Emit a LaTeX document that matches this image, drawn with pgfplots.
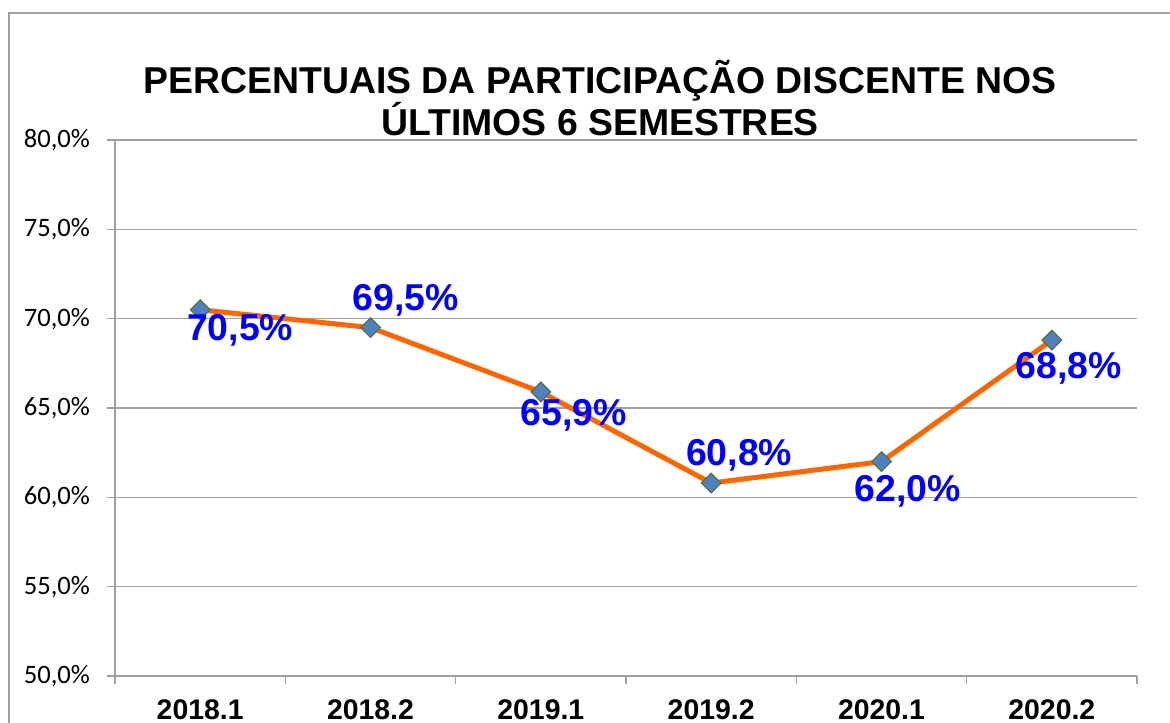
\documentclass[border=0pt]{standalone}
\usepackage{pgfplots}
\pgfplotsset{compat=1.18}
\usepackage{pgfplotstable}
\usepackage{fontspec}
\setmainfont{Liberation Sans}
\newfontfamily\calibri{Carlito}
\definecolor{lineor}{RGB}{255,102,0}
\definecolor{markblue}{RGB}{79,129,189}
\definecolor{markgreen}{RGB}{80,110,40}
\definecolor{labelblue}{RGB}{0,0,255}
\definecolor{gridgray}{RGB}{160,160,160}
\pgfplotstableread{
x y dx dy
0 70.5 20 -10.5
1 69.5 17.5 13.5
2 65.9 16.5 -11.5
3 60.8 14 14
4 62.0 13 -15
5 68.8 8.5 -14
}\datatable
\begin{document}
\begin{tikzpicture}
\useasboundingbox (0,0) rectangle (585pt,-361pt);
\draw[gridgray, line width=0.75pt] (4.5pt,-6.5pt) rectangle (700pt,-500pt);
\node[font=\bfseries\fontsize{18.7}{21}\selectfont, anchor=base] at (300pt,-46.5pt) {PERCENTUAIS DA PARTICIPAÇÃO DISCENTE NOS};
\node[font=\bfseries\fontsize{18.7}{21}\selectfont, anchor=base] at (300pt,-67.5pt) {ÚLTIMOS 6 SEMESTRES};
\begin{axis}[
  at={(57.5pt,-338pt)}, anchor=south west,
  scale only axis, width=511pt, height=268pt,
  xmin=-0.5, xmax=5.5, ymin=50, ymax=80,
  axis lines=left, axis line style={-, draw=gridgray, line width=0.6pt},
  ytick={50,55,...,80},
  ymajorgrids, grid style={gridgray, line width=0.6pt},
  tick align=outside,
  major tick length=4pt,
  tick style={draw=gridgray, line width=0.6pt},
  /pgf/number format/assume math mode=true,
  yticklabel={\pgfmathprintnumber[fixed,fixed zerofill,precision=1,use comma]{\tick}\%},
  yticklabel style={font=\calibri\fontsize{13.3}{15}\selectfont, text=black, xshift=-5pt},
  xtick={-0.5,0.5,...,5.5},
  xticklabels={},
  extra x ticks={0,1,2,3,4,5},
  extra x tick labels={2018.1,2018.2,2019.1,2019.2,2020.1,2020.2},
  extra x tick style={major tick length=0pt, xticklabel style={font=\bfseries\fontsize{14.2}{16}\selectfont, yshift=-8.5pt}},
  clip=false,
]
\addplot[lineor, line width=2.5pt, mark=square*, mark size=3.5pt,
  mark options={rotate=45, fill=markblue, draw=markgreen, line width=0.5pt},
  point meta=y,
  nodes near coords={\pgfmathprintnumber[fixed,fixed zerofill,precision=1,use comma]{\pgfplotspointmeta}\%},
  visualization depends on={\thisrow{dx} \as \dx},
  visualization depends on={\thisrow{dy} \as \dy},
  every node near coord/.append style={anchor=center, xshift=\dx pt, yshift=\dy pt,
     font=\bfseries\fontsize{18.7}{20}\selectfont, text=labelblue},
] table[x=x, y=y] {\datatable};
\end{axis}
\end{tikzpicture}
\end{document}
